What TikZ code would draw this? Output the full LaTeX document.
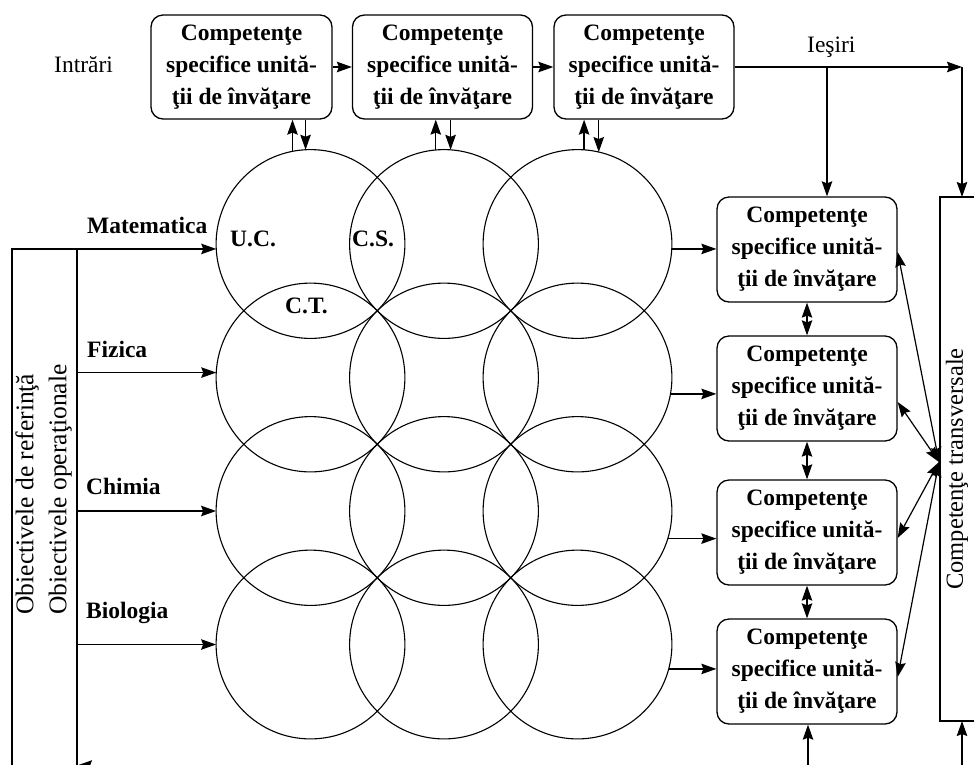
\documentclass[tikz,border=0pt]{standalone}
\usepackage{fontspec}
\setmainfont{Liberation Serif}
\usetikzlibrary{arrows.meta,calc}
\newcommand{\cstext}{Competenţe\\specifice unită-\\ţii de învăţare}
\begin{document}
\begin{tikzpicture}[x=1pt,y=-1pt,
  box/.style={draw, rounded corners=12pt, line width=1.3pt, minimum width=180pt, minimum height=104pt, inner sep=0pt, align=center, font=\bfseries\fontsize{23.5}{32}\selectfont},
  circ/.style={draw, circle, minimum size=188.8pt, inner sep=0pt, outer sep=0pt, line width=1.1pt},
  frame/.style={draw, rectangle, line width=1.3pt, inner sep=0pt, outer sep=0pt},
  arr/.style={line width=1.2pt, -{Stealth[length=15pt,width=10.5pt,inset=2pt]}},
  darr/.style={line width=1.2pt, {Stealth[length=15pt,width=10.5pt,inset=2pt]}-{Stealth[length=15pt,width=10.5pt,inset=2pt]}},
  lbl/.style={font=\bfseries\fontsize{23.5}{28}\selectfont, inner sep=0pt, anchor=base west},
  txt/.style={font=\fontsize{23.5}{28}\selectfont, inner sep=0pt, anchor=base west}]
\useasboundingbox (0,0) rectangle (974,764);

% top boxes
\node[box, minimum width=181pt] (t1) at (241.5,67) {\cstext};
\node[box, minimum width=180pt] (t2) at (442.5,67) {\cstext};
\node[box, minimum width=180pt] (t3) at (644,67) {\cstext};

% right boxes
\node[box, minimum height=105pt] (b1) at (807,249.5) {\cstext};
\node[box, minimum height=105pt] (b2) at (807,388.5) {\cstext};
\node[box, minimum height=105pt] (b3) at (807,532.5) {\cstext};
\node[box, minimum height=105pt] (b4) at (807,671.5) {\cstext};

% circles
\foreach \r/\y in {1/244,2/377.5,3/511,4/644.5}
  \foreach \c/\x in {1/310.5,2/444,3/577.5}
    \node[circ] (c\r\c) at (\x,\y) {};

% frames
\node[frame, minimum width=65pt, minimum height=541pt] (L) at (44.5,519.5) {};
\node[frame, minimum width=45pt, minimum height=524pt] (R) at (962.5,459) {};

\node[rotate=90, align=left, inner sep=0pt, font=\fontsize{25.5}{33}\selectfont] (Ltext) at (43.5,489.5) {Obiectivele de referinţă\\Obiectivele operaţionale};
\node[rotate=90, inner sep=0pt, font=\fontsize{24.5}{30}\selectfont] (Rtext) at (957,469) {Competenţe transversale};

% labels
\node[txt] (intr) at (54,72) {Intrări};
\node[txt] (ies) at (807,52) {Ieşiri};
\node[lbl] (mat) at (87,233) {Matematica};
\node[lbl] (fiz) at (87,357) {Fizica};
\node[lbl] (chi) at (86,494) {Chimia};
\node[lbl] (bio) at (86,618) {Biologia};
\node[lbl] (uc) at (230,246) {U.C.};
\node[lbl] (cs) at (352,246) {C.S.};
\node[lbl] (ct) at (285,313) {C.T.};

% top chain
\draw[arr] (t1.east) -- (t2.west);
\draw[arr] (t2.east) -- (t3.west);
\coordinate (o1) at (962,67);
\coordinate (o2) at (827,67);
\draw[arr] (t3.east) -- (o1);
\draw[arr] (o1) -- (o1 |- R.north);
\draw[arr] (o2) -- (o2 |- b1.north);

% top boxes <-> circles
\draw[arr] (c11.101) -- (c11.101 |- t1.south);
\draw[arr] (c11.93 |- t1.south) -- (c11.93);
\draw[arr] (c12.95.5) -- (c12.95.5 |- t2.south);
\draw[arr] (c12.86.4 |- t2.south) -- (c12.86.4);
\draw[arr] (c13.86.7) -- (c13.86.7 |- t3.south);
\draw[arr] (c13.77.5 |- t3.south) -- (c13.77.5);

% left inputs
\draw[arr] (c11.183 -| L.east) -- (c11.183);
\draw[arr] (c21.177.3 -| L.east) -- (c21.177.3);
\draw[arr] (L.east |- c31.west) -- (c31.west);
\draw[arr] (L.east |- c41.west) -- (c41.west);
\coordinate (bl) at (160,765.5);
\draw[arr] (bl) -- (bl -| L.east);

% circles -> right boxes
\draw[arr] (c13.-3) -- (c13.-3 -| b1.west);
\draw[arr] (c23.-10.4) -- (c23.-10.4 -| b2.west);
\draw[arr] (c33.-17.3) -- (c33.-17.3 -| b3.west);
\draw[arr] (c43.-15.7) -- (c43.-15.7 -| b4.west);

% between right boxes
\draw[darr] (b1.south) -- (b2.north);
\draw[darr] (b2.south) -- (b3.north);
\draw[darr] (b3.south) -- (b4.north);

% to transversal
\coordinate (cv) at (939,462);
\draw[darr] ($(b1.east)+(0,2.5)$) -- (cv);
\draw[darr] ($(b2.east)+(0,13.5)$) -- (cv);
\draw[darr] ($(b3.east)+(0,5.5)$) -- (cv);
\draw[darr] ($(b4.east)+(0,5.5)$) -- (cv);

% bottom inputs
\coordinate (bb1) at (808,770);
\coordinate (bb2) at (962,770);
\draw[arr] (bb1) -- (bb1 |- b4.south);
\draw[arr] (bb2) -- (bb2 |- R.south);
\end{tikzpicture}
\end{document}
